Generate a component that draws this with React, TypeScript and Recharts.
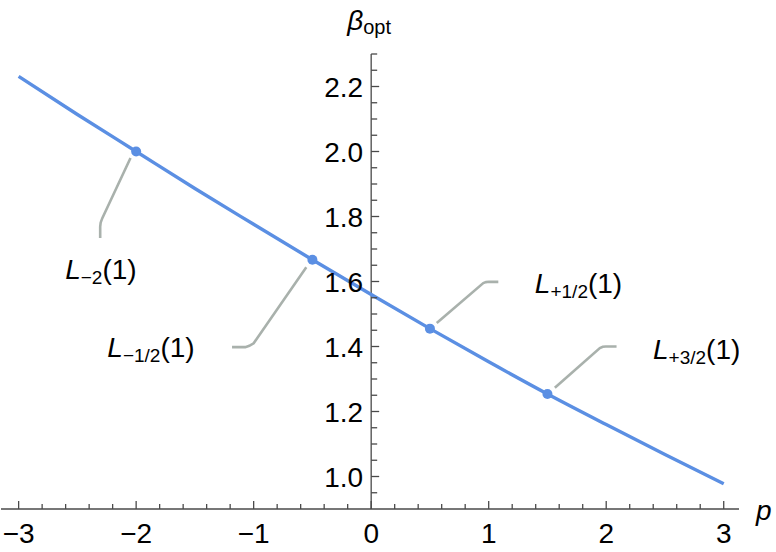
import {
  ComposedChart,
  Line,
  Scatter,
  XAxis,
  YAxis,
  ReferenceLine,
} from "recharts";

// beta_opt(p)
const curveP = [-3, -2.5, -2, -1.5, -1, -0.5, 0, 0.5, 1, 1.5, 2, 2.5, 3];
const curveB = [2.231, 2.114, 2.0, 1.886, 1.776, 1.667, 1.56, 1.455, 1.353, 1.254, 1.16, 1.068, 0.978];

// marked points L_s(1)
const markP = [-2, -0.5, 0.5, 1.5];
const markB = [2.0, 1.667, 1.455, 1.254];

// callout leader lines (p, beta)
const calloutM2 = [[-2.048, 1.98], [-2.288, 1.795], [-2.302, 1.781], [-2.306, 1.768], [-2.306, 1.734]];
const calloutMHalf = [[-0.552, 1.644], [-1.0, 1.41], [-1.037, 1.402], [-1.071, 1.398], [-1.184, 1.398]];
const calloutPHalf = [[0.558, 1.472], [0.954, 1.595], [0.977, 1.598], [1.003, 1.599], [1.082, 1.599]];
const calloutP3Half = [[1.563, 1.273], [1.946, 1.395], [1.971, 1.399], [1.997, 1.4], [2.088, 1.4]];

// label anchors: p, beta (baseline), subscript
const labelP = [-2.3, -2.245, 1.393, 2.398];
const labelB = [1.608, 1.368, 1.565, 1.361];
const labelSub = ["\u22122", "\u22121/2", "+1/2", "+3/2"];
const labelAnchor = ["middle", "start", "start", "start"];

const xMajor = [-3, -2, -1, 0, 1, 2, 3];
const yMajor = [1.0, 1.2, 1.4, 1.6, 1.8, 2.0, 2.2];

const X_MIN = -3.15;
const X_MAX = 3.13;
const Y_MIN = 0.9;
const Y_MAX = 2.3;

const W = 776;
const H = 552;
const Y_AXIS_W = 1;
const MARGIN = { top: 54, right: 37, bottom: 0, left: 0 };
const PLOT_W = W - MARGIN.left - MARGIN.right - Y_AXIS_W;
const Y_AXIS_DX = ((0 - X_MIN) / (X_MAX - X_MIN)) * PLOT_W;

const BLUE = "#5b8fe3";
const GREY = "#a9b1ac";
const AXIS = "#4a4a4a";
const FONT = "'Liberation Sans', Arial, sans-serif";
const FS = 28;

const round = (v: number) => Math.round(v * 1000) / 1000;

const xTicks: number[] = [];
for (let i = 0; i < xMajor.length; i++) {
  xTicks.push(xMajor[i]);
  if (i < xMajor.length - 1) {
    for (let k = 1; k < 5; k++) xTicks.push(round(xMajor[i] + k * 0.2));
  }
}
const yTicks: number[] = [0.95];
for (let i = 0; i < yMajor.length; i++) {
  yTicks.push(yMajor[i]);
  for (let k = 1; k < 4; k++) {
    const t = round(yMajor[i] + k * 0.05);
    if (t <= Y_MAX) yTicks.push(t);
  }
}

const curve = curveP.map((p, i) => ({ p, b: curveB[i] }));
const marks = markP.map((p, i) => ({ p, b: markB[i] }));
const toPts = (arr: number[][]) => arr.map(([p, b]) => ({ p, b }));
const callouts = [calloutM2, calloutMHalf, calloutPHalf, calloutP3Half].map(toPts);
const labels = labelP.map((p, i) => ({
  p,
  b: labelB[i],
  sub: labelSub[i],
  anchor: labelAnchor[i],
}));

const isMajor = (v: number, step: number) =>
  Math.abs(v / step - Math.round(v / step)) < 1e-6;

const XTick = (props: any) => {
  const { x, y, payload } = props;
  const v = payload.value;
  const major = isMajor(v, 1);
  return (
    <g>
      <line x1={x} x2={x} y1={y} y2={y - (major ? 8 : 5)} stroke={AXIS} strokeWidth={1.3} />
      {major && (
        <text x={x} y={y + 34} textAnchor="middle" fontSize={FS} fontFamily={FONT} fill="#000">
          {v < 0 ? "\u2212" + Math.abs(v) : String(v)}
        </text>
      )}
    </g>
  );
};

const YTick = (props: any) => {
  const { x, y, payload } = props;
  const v = payload.value;
  const major = isMajor(v, 0.2);
  const ax = x + Y_AXIS_DX;
  return (
    <g>
      <line x1={ax} x2={ax + (major ? 8 : 6)} y1={y} y2={y} stroke={AXIS} strokeWidth={1.3} />
      {major && (
        <text x={ax - 8} y={y} dy="0.36em" textAnchor="end" fontSize={FS} fontFamily={FONT} fill="#000">
          {v.toFixed(1)}
        </text>
      )}
    </g>
  );
};

const Dot = (props: any) => <circle cx={props.cx} cy={props.cy} r={5} fill={BLUE} />;

const LabelText = (props: any) => {
  const { cx, cy, payload } = props;
  return (
    <text x={cx} y={cy} textAnchor={payload.anchor} fontSize={FS} fontFamily={FONT} fill="#000">
      <tspan fontStyle="italic">L</tspan>
      <tspan fontSize={19} dy={5}>{payload.sub}</tspan>
      <tspan dy={-5}>(1)</tspan>
    </text>
  );
};

const XTitle = (props: any) => {
  const vb = props.viewBox;
  return (
    <text x={vb.x + vb.width + 17} y={vb.y + 11} fontSize={FS} fontStyle="italic" fontFamily={FONT} fill="#000">
      p
    </text>
  );
};

const YTitle = (props: any) => {
  const vb = props.viewBox;
  return (
    <text x={vb.x + vb.width + Y_AXIS_DX - 24} y={vb.y - 24} fontSize={FS} fontFamily={FONT} fill="#000">
      <tspan fontStyle="italic">β</tspan>
      <tspan fontSize={20} dy={4}>opt</tspan>
    </text>
  );
};

export default function App() {
  return (
    <div style={{ position: "absolute", left: 0, top: 0, background: "#fff" }}>
      <ComposedChart width={W} height={H} margin={MARGIN}>
        <XAxis
          type="number"
          dataKey="p"
          domain={[X_MIN, X_MAX]}
          ticks={xTicks}
          interval={0}
          tickSize={0}
          tickMargin={0}
          height={43}
          stroke={AXIS}
          strokeWidth={1.3}
          tick={<XTick />}
          label={XTitle}
          allowDataOverflow
        />
        <YAxis
          type="number"
          dataKey="b"
          domain={[Y_MIN, Y_MAX]}
          ticks={yTicks}
          interval={0}
          tickSize={0}
          tickMargin={0}
          width={Y_AXIS_W}
          axisLine={false}
          tick={<YTick />}
          label={YTitle}
          allowDataOverflow
        />
        <ReferenceLine x={0} stroke={AXIS} strokeWidth={1.3} />
        {callouts.map((c, i) => (
          <Line
            key={i}
            data={c}
            dataKey="b"
            type="linear"
            stroke={GREY}
            strokeWidth={2.6}
            dot={false}
            activeDot={false}
            isAnimationActive={false}
          />
        ))}
        <Line
          data={curve}
          dataKey="b"
          type="monotone"
          stroke={BLUE}
          strokeWidth={3.4}
          dot={false}
          activeDot={false}
          isAnimationActive={false}
        />
        <Scatter data={marks} dataKey="b" shape={<Dot />} isAnimationActive={false} />
        <Scatter data={labels} dataKey="b" shape={<LabelText />} isAnimationActive={false} />
      </ComposedChart>
    </div>
  );
}
